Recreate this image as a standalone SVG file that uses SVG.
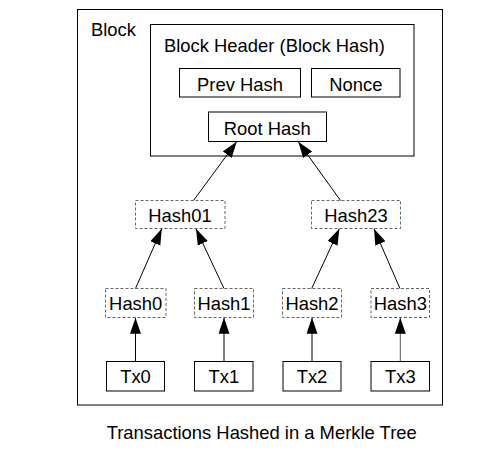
<svg xmlns="http://www.w3.org/2000/svg" width="490" height="466" viewBox="0 0 490 466">
<style>
text{font-family:"Liberation Sans",Arial,sans-serif;font-size:18.4px;fill:#000}
.c{text-anchor:middle}
.box{fill:#fff;stroke:#000;stroke-width:1}
.dash{fill:#fff;stroke:#666;stroke-width:1;stroke-dasharray:3 2}
.conn line{stroke:#000;stroke-width:1;marker-end:url(#ah)}
</style>
<defs>
<marker id="ah" markerUnits="userSpaceOnUse" markerWidth="17" markerHeight="12" refX="16" refY="5.5" orient="auto">
<path d="M0,0 L16,5.5 L0,11 Z" fill="#000"/>
</marker>
</defs>
<rect width="490" height="466" fill="#fff"/>
<g id="block">
<rect class="box" x="77.5" y="9.5" width="365" height="395.5"/>
<text x="91" y="35.5">Block</text>
</g>
<g id="header">
<rect class="box" x="150.5" y="24.5" width="263.5" height="131.5"/>
<text x="164" y="51.5">Block Header (Block Hash)</text>
</g>
<g id="prevhash">
<rect class="box" x="179.5" y="68.5" width="121" height="28.5"/>
<text class="c" x="240" y="90.5">Prev Hash</text>
</g>
<g id="nonce">
<rect class="box" x="311.5" y="68.5" width="88.5" height="28.5"/>
<text class="c" x="355.8" y="90.5">Nonce</text>
</g>
<g id="roothash">
<rect class="box" x="208.5" y="112" width="118" height="29.5"/>
<text class="c" x="267.3" y="135">Root Hash</text>
</g>
<g id="hash01">
<rect class="dash" x="135.5" y="200.5" width="89.5" height="28"/>
<text class="c" x="180" y="222.3">Hash01</text>
</g>
<g id="hash23">
<rect class="dash" x="311.5" y="200.5" width="89" height="28"/>
<text class="c" x="356" y="222.3">Hash23</text>
</g>
<g id="hash0">
<rect class="dash" x="105.5" y="288.5" width="60.5" height="29"/>
<text class="c" x="135.7" y="309.5">Hash0</text>
</g>
<g id="hash1">
<rect class="dash" x="194.5" y="288.5" width="59" height="29"/>
<text class="c" x="224" y="309.5">Hash1</text>
</g>
<g id="hash2">
<rect class="dash" x="282.5" y="288.5" width="59" height="29"/>
<text class="c" x="312" y="309.5">Hash2</text>
</g>
<g id="hash3">
<rect class="dash" x="371" y="288.5" width="58.5" height="29"/>
<text class="c" x="400.3" y="309.5">Hash3</text>
</g>
<g id="tx0">
<rect class="box" x="106.5" y="361.5" width="58" height="29.5"/>
<text class="c" x="135.5" y="383.3">Tx0</text>
</g>
<g id="tx1">
<rect class="box" x="194.5" y="361.5" width="58.5" height="29.5"/>
<text class="c" x="223.8" y="383.3">Tx1</text>
</g>
<g id="tx2">
<rect class="box" x="283" y="361.5" width="58" height="29.5"/>
<text class="c" x="312" y="383.3">Tx2</text>
</g>
<g id="tx3">
<rect class="box" x="371" y="361.5" width="58.5" height="29.5"/>
<text class="c" x="400.3" y="383.3">Tx3</text>
</g>
<g id="connectors" class="conn">
<line x1="193.5" y1="200.5" x2="236.7" y2="141.8"/>
<line x1="340.5" y1="200.5" x2="298.3" y2="141.8"/>
<line x1="135.5" y1="288.5" x2="161.7" y2="228.8"/>
<line x1="224" y1="288.5" x2="196" y2="228.8"/>
<line x1="311.7" y1="288.5" x2="339.3" y2="228.8"/>
<line x1="400" y1="288.5" x2="374" y2="228.8"/>
<line x1="135.5" y1="361.5" x2="135.5" y2="317.8"/>
<line x1="224" y1="361.5" x2="224" y2="317.8"/>
<line x1="312" y1="361.5" x2="312" y2="317.8"/>
<line x1="400.3" y1="361.5" x2="400.3" y2="317.8" style="stroke:#555"/>
</g>
<text class="c" x="261.7" y="439.3">Transactions Hashed in a Merkle Tree</text>
</svg>
